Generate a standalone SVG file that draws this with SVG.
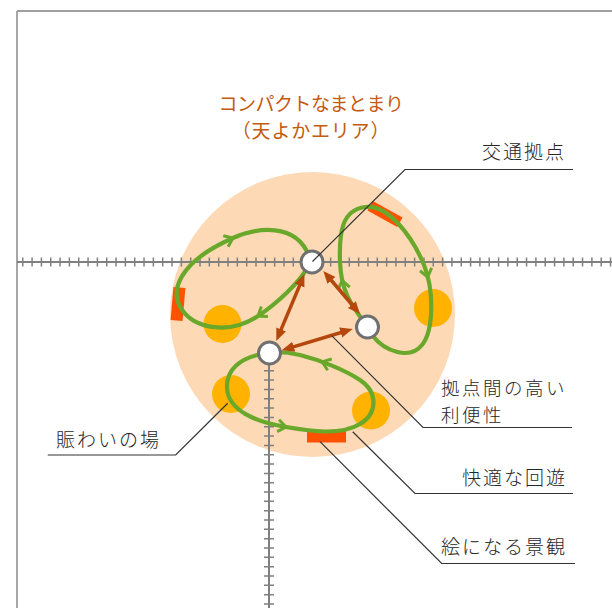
<svg xmlns="http://www.w3.org/2000/svg" xmlns:xlink="http://www.w3.org/1999/xlink" width="612" height="608" viewBox="0 0 612 608">
<style>
.frame{stroke:#7f7f7f;stroke-width:1.5;fill:none}
.axis{stroke:#808080;stroke-width:2;fill:none}
.tick{stroke:#808080;fill:none;stroke-dasharray:1.5 7.83}
.area{fill:#fdd9b6}
.spot{fill:#ffb300}
.view{fill:#ff5100}
.loop{fill:none;stroke:#69a82a;stroke-width:4.2;stroke-linecap:round}
.chev{fill:none;stroke:#69a82a;stroke-width:3}
.link{stroke:#b5470c;stroke-width:3.5;fill:none;marker-start:url(#ah);marker-end:url(#ah)}
.hub{fill:#ffffff;stroke:#707070;stroke-width:3}
.leader{fill:none;stroke:#333333;stroke-width:1.2}
.lbl{font-family:"Noto Sans CJK JP","Noto Sans",sans-serif;font-size:19px;font-weight:300;letter-spacing:2px;fill:#262626}
.lbl2{font-family:"Noto Sans CJK JP","Noto Sans",sans-serif;font-size:18.5px;font-weight:300;letter-spacing:2.5px;fill:#262626}
.ttl{font-family:"Noto Sans CJK JP","Noto Sans",sans-serif;font-size:19px;fill:#c55a11;text-anchor:middle}
</style>
<defs>
<marker id="ah" markerUnits="userSpaceOnUse" markerWidth="13" markerHeight="12" viewBox="0 0 13 12" refX="6.5" refY="6" orient="auto-start-reverse">
<path d="M0,0.8 L12.5,6 L0,11.2 z" fill="#b5470c"/>
</marker>
<path id="chev" class="chev" d="M-8,-6 L0,0 L-8,6"/>
</defs>

<g id="frame">
<line class="frame" x1="17" y1="11" x2="612" y2="11"/>
<line x1="17" y1="11" x2="17" y2="608" stroke="#a6a6a6" stroke-width="2"/>
</g>

<g id="area">
<circle class="area" cx="312.5" cy="314.5" r="142.5"/>
</g>

<g id="spots">
<circle class="spot" cx="222.5" cy="324" r="19"/>
<circle class="spot" cx="433" cy="308" r="19"/>
<circle class="spot" cx="231" cy="394" r="19"/>
<circle class="spot" cx="371" cy="410.5" r="19"/>
</g>

<g id="views">
<rect class="view" x="-6" y="-16.5" width="12" height="33" transform="translate(178,304) rotate(5)"/>
<rect class="view" x="-17" y="-5.5" width="34" height="11" transform="translate(385,214) rotate(29)"/>
<rect class="view" x="307" y="430" width="39" height="12.5"/>
</g>

<g id="axes">
<line class="axis" x1="17" y1="262" x2="612" y2="262"/>
<line class="tick" x1="22" y1="262" x2="612" y2="262" stroke-width="9"/>
<line class="axis" x1="269" y1="353" x2="269" y2="608"/>
<line class="tick" x1="269" y1="370" x2="269" y2="608" stroke-width="10"/>
</g>

<g id="loops">
<path class="loop" d="M307,268 C300,282 276.3,303.9 258,316 C200,355 122,287 233,238 C256.8,227.5 296,222 309,256"/>
<path class="loop" d="M364,322 C350,303 341,290 340,262 C339,232 342,210 365,207 C388,204 412,236 424,265 C434,290 434,330 422,345 C410,360 385,352 372,335"/>
<path class="loop" d="M262,354 C240,358 226,370 227,388 C228,410 255,422 286,427 C310,431 340,436 360,424 C378,413 378,392 360,380 C345,370 320,360 300,355 C292,353 284,352 276,352"/>
<use xlink:href="#chev" transform="translate(258,316) rotate(146.5)"/>
<use xlink:href="#chev" transform="translate(233,238) rotate(-23.8)"/>
<use xlink:href="#chev" transform="translate(342.2,280.5) rotate(-102.4)"/>
<use xlink:href="#chev" transform="translate(427.7,277.1) rotate(76.3)"/>
<use xlink:href="#chev" transform="translate(286,427) rotate(9.2)"/>
<use xlink:href="#chev" transform="translate(322.2,361.9) rotate(-160)"/>
</g>

<g id="connectors">
<line class="link" x1="302.1" y1="279.6" x2="278.6" y2="335.4"/>
<line class="link" x1="327.2" y1="275.5" x2="356.1" y2="309.5"/>
<line class="link" x1="287.5" y1="348.6" x2="346.9" y2="330.7"/>
</g>

<g id="hub1"><circle class="hub" cx="312" cy="262" r="11"/></g>
<g id="hub2"><circle class="hub" cx="367.5" cy="327" r="11"/></g>
<g id="hub3"><circle class="hub" cx="269.5" cy="353" r="11"/></g>

<g id="leaders">
<polyline class="leader" points="312.5,261.5 405,169.5 573,169.5"/>
<polyline class="leader" points="331.7,335.7 423,427.5 572,427.5"/>
<polyline class="leader" points="352.7,431.7 415,493.5 573,493.5"/>
<polyline class="leader" points="320,441.7 441.7,563.5 575,563.5"/>
<polyline class="leader" points="227.7,403.3 175.7,455 47.7,455"/>
</g>

<g id="title">
<text class="ttl" x="311" y="111" letter-spacing="-0.5">コンパクトなまとまり</text>
<text class="ttl" x="311" y="138" letter-spacing="0.8">（天よかエリア）</text>
</g>

<g id="label-hub"><text class="lbl" x="482" y="158.5">交通拠点</text></g>
<g id="label-link"><text class="lbl2" x="441" y="395">拠点間の高い</text><text class="lbl2" x="441" y="422">利便性</text></g>
<g id="label-loop"><text class="lbl" x="462" y="484.5">快適な回遊</text></g>
<g id="label-view"><text class="lbl" x="441" y="553.5">絵になる景観</text></g>
<g id="label-spot"><text class="lbl" x="56" y="446.5">賑わいの場</text></g>
</svg>
